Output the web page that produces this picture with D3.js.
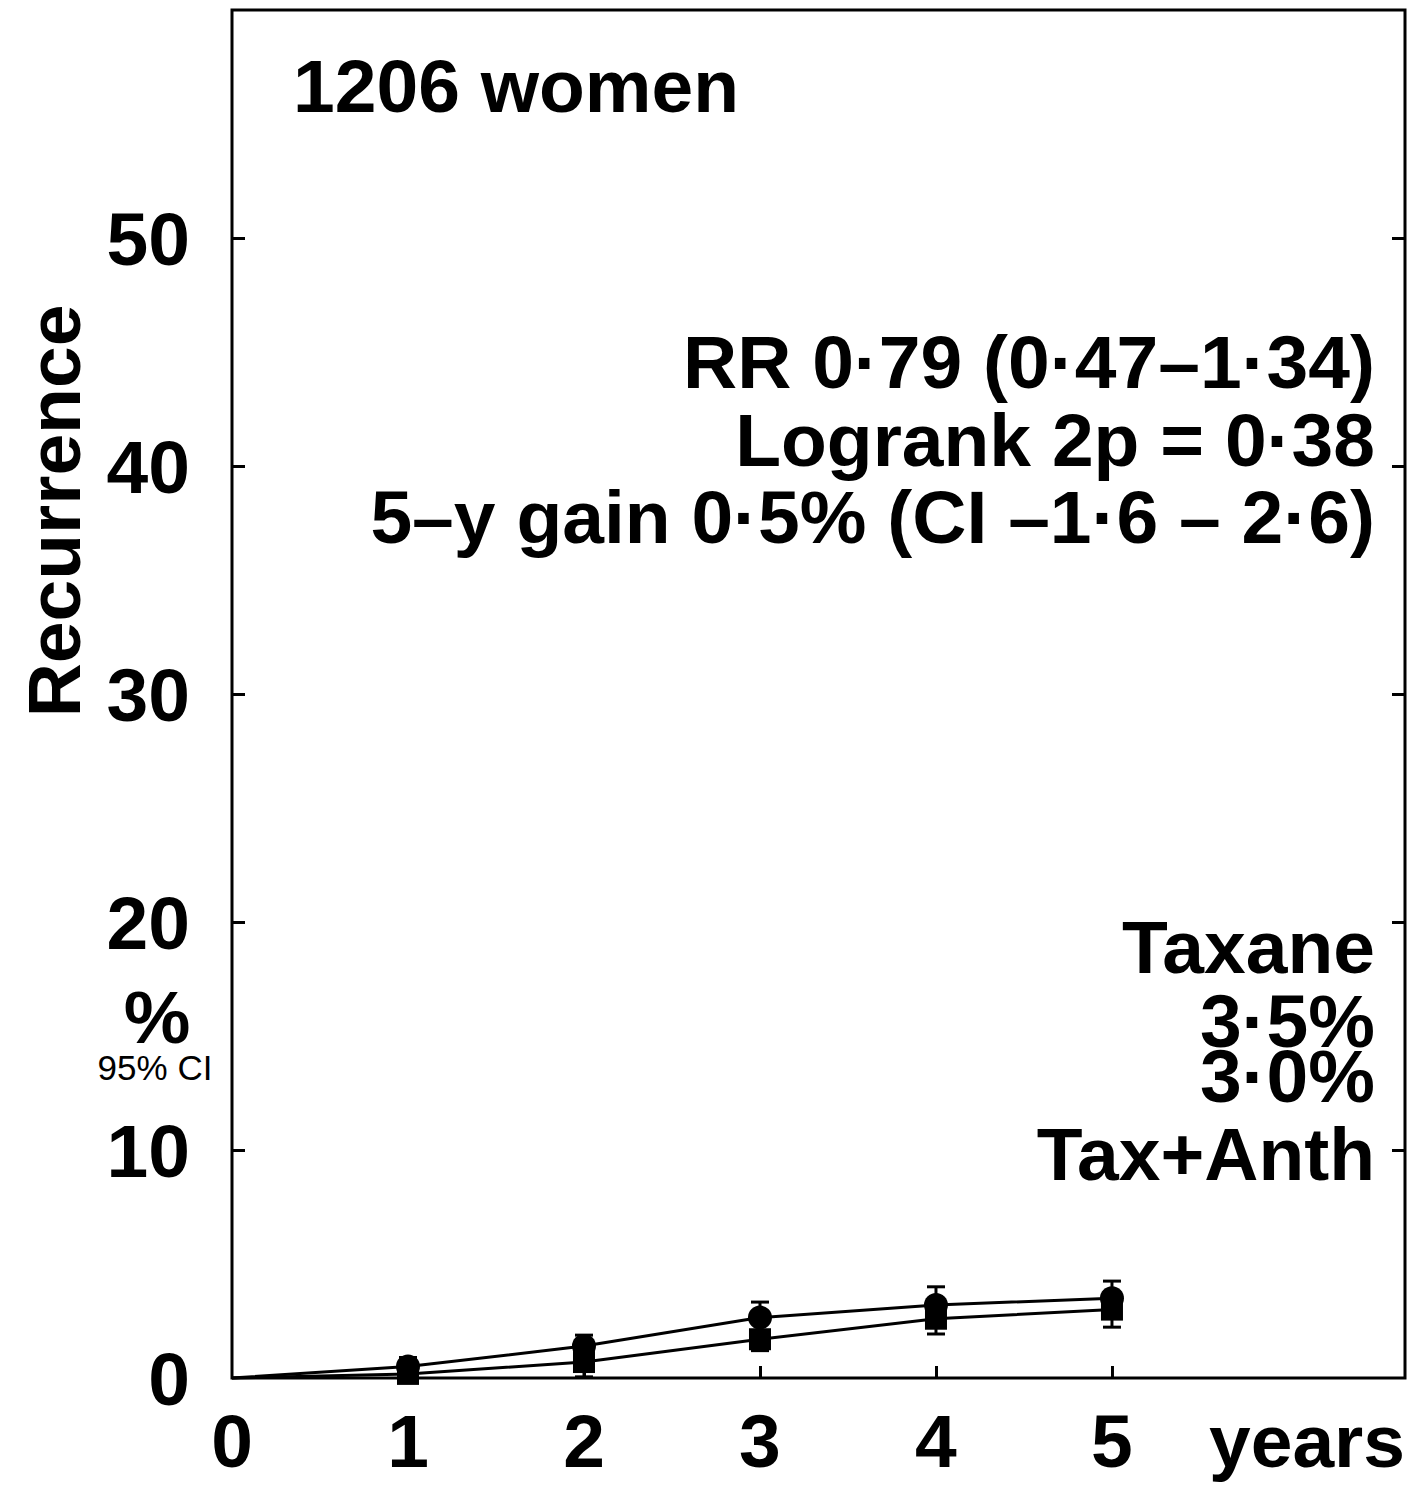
<!DOCTYPE html>
<html>
<head>
<meta charset="utf-8">
<script src="https://cdn.jsdelivr.net/npm/d3@7"></script>
<style>
  body { margin: 0; background: #fff; }
  text { font-family: 'Liberation Sans', Arial, Helvetica, sans-serif; fill: #000; }
</style>
</head>
<body>
<div class="canvas"></div>
<script>
//? DATA
const years = [0, 1, 2, 3, 4, 5]
const taxane = [0, 0.5, 1.4, 2.65, 3.2, 3.5]
const taxAnth = [0, 0.18, 0.7, 1.7, 2.6, 3.0]
const taxaneUpper = [null, 0.9, 1.88, 3.33, 4.0, 4.25]
const taxAnthLower = [null, 0.0, 0.05, 1.2, 1.93, 2.23]
const yTicks = [0, 10, 20, 30, 40, 50]
const xTicks = [0, 1, 2, 3, 4, 5]
const statLines = ['RR 0·79 (0·47–1·34)', 'Logrank 2p = 0·38', '5–y gain 0·5% (CI –1·6 – 2·6)']
const legendLines = ['Taxane', '3·5%', '3·0%', 'Tax+Anth']

const dims = { width: 1412, height: 1485 }
const plot = { left: 232, right: 1405, top: 10, bottom: 1378 }
const big = 75

const svg = d3
  .select('.canvas')
  .append('svg')
  .attr('width', dims.width)
  .attr('height', dims.height)

svg.append('rect').attr('width', dims.width).attr('height', dims.height).attr('fill', '#fff')

const x = d3.scaleLinear().domain([0, 6.665]).range([plot.left, plot.right])
const y = d3.scaleLinear().domain([0, 60]).range([plot.bottom, plot.top])

//* frame
svg
  .append('rect')
  .attr('x', plot.left)
  .attr('y', plot.top)
  .attr('width', plot.right - plot.left)
  .attr('height', plot.bottom - plot.top)
  .attr('fill', 'none')
  .attr('stroke', '#000')
  .attr('stroke-width', 3)

//* axes, ticks pointing inwards
const leftAxis = d3.axisRight(y).tickValues(yTicks.slice(1)).tickSize(13).tickFormat('')
const rightAxis = d3.axisLeft(y).tickValues(yTicks.slice(1)).tickSize(13).tickFormat('')
const bottomAxis = d3.axisTop(x).tickValues(xTicks.slice(1)).tickSize(12).tickFormat('')

svg.append('g').attr('transform', `translate(${plot.left},0)`).call(leftAxis)
svg.append('g').attr('transform', `translate(${plot.right},0)`).call(rightAxis)
svg.append('g').attr('transform', `translate(0,${plot.bottom})`).call(bottomAxis)
svg.selectAll('.domain').remove()
svg.selectAll('.tick line').attr('stroke', '#000').attr('stroke-width', 3)

//* tick labels
svg
  .append('g')
  .selectAll('text')
  .data(yTicks)
  .enter()
  .append('text')
  .attr('x', 190)
  .attr('y', d => y(d))
  .attr('dy', '0.36em')
  .attr('text-anchor', 'end')
  .attr('font-size', big)
  .attr('font-weight', 'bold')
  .text(d => d)

svg
  .append('g')
  .selectAll('text')
  .data(xTicks)
  .enter()
  .append('text')
  .attr('x', d => x(d))
  .attr('y', 1467)
  .attr('text-anchor', 'middle')
  .attr('font-size', big)
  .attr('font-weight', 'bold')
  .text(d => d)

svg.append('text').attr('x', 1405).attr('y', 1467).attr('text-anchor', 'end')
  .attr('font-size', big).attr('font-weight', 'bold').text('years')

//* y labels
svg.append('text')
  .attr('transform', 'translate(80,511) rotate(-90)')
  .attr('text-anchor', 'middle')
  .attr('font-size', big)
  .attr('font-weight', 'bold')
  .text('Recurrence')

svg.append('text').attr('x', 157).attr('y', 1043).attr('text-anchor', 'middle')
  .attr('font-size', big).attr('font-weight', 'bold').text('%')
svg.append('text').attr('x', 155).attr('y', 1080).attr('text-anchor', 'middle')
  .attr('font-size', 35).text('95% CI')

//* annotations
svg.append('text').attr('x', 293).attr('y', 112)
  .attr('font-size', big).attr('font-weight', 'bold').text('1206 women')

svg.append('g')
  .selectAll('text')
  .data(statLines)
  .enter()
  .append('text')
  .attr('x', 1375)
  .attr('y', (d, i) => 388 + i * 77.5)
  .attr('text-anchor', 'end')
  .attr('font-size', big)
  .attr('font-weight', 'bold')
  .text(d => d)

const legendY = [973, 1047, 1102, 1180]
svg.append('g')
  .selectAll('text')
  .data(legendLines)
  .enter()
  .append('text')
  .attr('x', 1375)
  .attr('y', (d, i) => legendY[i])
  .attr('text-anchor', 'end')
  .attr('font-size', big)
  .attr('font-weight', 'bold')
  .text(d => d)

//* curves
const line = d3.line().x(d => x(d[0])).y(d => y(d[1]))
const series = [
  { vals: taxane, ci: taxaneUpper, shape: 'circle' },
  { vals: taxAnth, ci: taxAnthLower, shape: 'square' }
]

series.forEach(s => {
  svg.append('path')
    .attr('d', line(years.map((yr, i) => [yr, s.vals[i]])))
    .attr('fill', 'none')
    .attr('stroke', '#000')
    .attr('stroke-width', 3)
})

series.forEach(s => {
  const pts = years.map((yr, i) => ({ yr, v: s.vals[i], ci: s.ci[i] })).filter(p => p.ci !== null)
  const g = svg.append('g')
  g.selectAll('line.bar')
    .data(pts)
    .enter()
    .append('line')
    .attr('x1', d => x(d.yr))
    .attr('x2', d => x(d.yr))
    .attr('y1', d => y(d.v))
    .attr('y2', d => y(d.ci))
    .attr('stroke', '#000')
    .attr('stroke-width', 3)
  g.selectAll('line.cap')
    .data(pts)
    .enter()
    .append('line')
    .attr('x1', d => x(d.yr) - 9)
    .attr('x2', d => x(d.yr) + 9)
    .attr('y1', d => y(d.ci))
    .attr('y2', d => y(d.ci))
    .attr('stroke', '#000')
    .attr('stroke-width', 3)
})

series.forEach(s => {
  const pts = years.map((yr, i) => ({ yr, v: s.vals[i] })).filter(p => p.yr > 0)
  if (s.shape === 'circle') {
    svg.append('g').selectAll('circle')
      .data(pts)
      .enter()
      .append('circle')
      .attr('cx', d => x(d.yr))
      .attr('cy', d => y(d.v))
      .attr('r', 12)
      .attr('fill', '#000')
  } else {
    svg.append('g').selectAll('rect')
      .data(pts)
      .enter()
      .append('rect')
      .attr('x', d => x(d.yr) - 11)
      .attr('y', d => y(d.v) - 11)
      .attr('width', 22)
      .attr('height', 22)
      .attr('fill', '#000')
  }
})
</script>
</body>
</html>
